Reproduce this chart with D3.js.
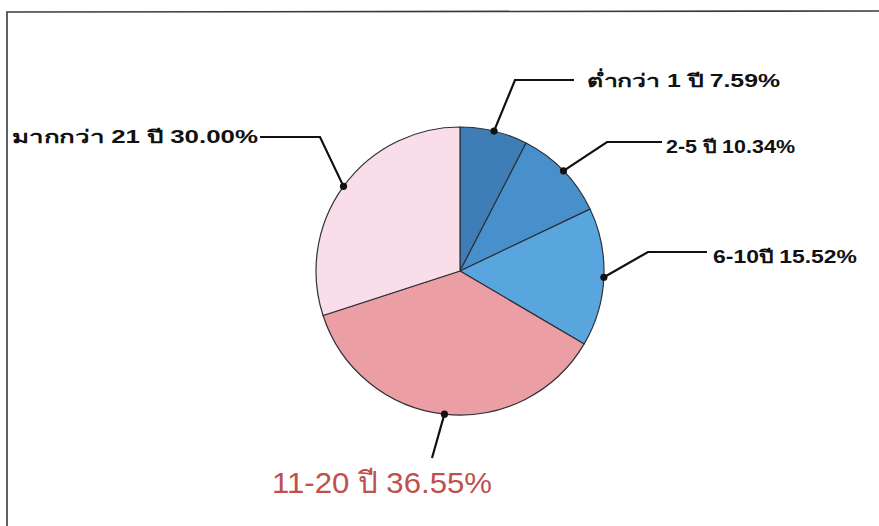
<!DOCTYPE html>
<html>
<head>
<meta charset="utf-8">
<script src="https://cdn.jsdelivr.net/npm/d3@7"></script>
<style>
  html, body { margin: 0; padding: 0; background: #fff; }
  svg { display: block; }
</style>
</head>
<body>
<svg id="chart" width="879" height="526"></svg>
<script>
// Share of respondents by length of service
const categories = ["ต่ำกว่า 1 ปี", "2-5 ปี", "6-10ปี", "11-20 ปี", "มากกว่า 21 ปี"];
const values = [7.59, 10.34, 15.52, 36.55, 30.00];
const colors = ["#3f7db6", "#4890cb", "#59a6df", "#eb9ea4", "#f9dde8"];

// Leader-line routing for each label: elbow point, line end, label anchor and width
const labelLayout = [
  { elbow: [515, 80],  end: [574, 80],  text: [587, 87],  anchor: "start",  width: 193 },
  { elbow: [607, 142], end: [662, 142], text: [666, 153], anchor: "start",  width: 129 },
  { elbow: [648, 252], end: [707, 252], text: [713, 263], anchor: "start",  width: 144 },
  { elbow: null,       end: [432, 458], text: [382, 493], anchor: "middle", width: 220 },
  { elbow: [320, 137], end: [260, 137], text: [258, 143], anchor: "end",    width: 246 }
];

const svg = d3.select("#chart");
const cx = 460, cy = 271, r = 144;

// frame
svg.append("path")
  .attr("d", "M7,526 L7,12 L879,11")
  .attr("fill", "none")
  .attr("stroke", "#3a3a3a")
  .attr("stroke-width", 1.6);

const data = categories.map((c, i) => ({ label: c, value: values[i], color: colors[i] }));

const pie = d3.pie().sort(null).value(d => d.value);
const arcs = pie(data);
const arc = d3.arc().innerRadius(0).outerRadius(r);

const g = svg.append("g").attr("transform", `translate(${cx},${cy})`);

g.selectAll("path.slice")
  .data(arcs)
  .join("path")
  .attr("class", "slice")
  .attr("d", arc)
  .attr("fill", d => d.data.color)
  .attr("stroke", "#2e3138")
  .attr("stroke-width", 1.2)
  .attr("stroke-linejoin", "round");

// leader lines from the mid-angle point on the rim
arcs.forEach((a, i) => {
  const mid = (a.startAngle + a.endAngle) / 2;
  const px = cx + r * Math.sin(mid);
  const py = cy - r * Math.cos(mid);
  const L = labelLayout[i];
  const pts = [[px, py]];
  if (L.elbow) pts.push(L.elbow);
  pts.push(L.end);
  svg.append("path")
    .attr("d", d3.line()(pts))
    .attr("fill", "none")
    .attr("stroke", "#111")
    .attr("stroke-width", 2.2);
  svg.append("circle")
    .attr("cx", px).attr("cy", py).attr("r", 3.6)
    .attr("fill", "#111");

  const big = i === 3;
  svg.append("text")
    .attr("x", L.text[0])
    .attr("y", L.text[1])
    .attr("text-anchor", L.anchor)
    .attr("font-family", "'Liberation Sans', Arial, 'Noto Sans', sans-serif")
    .attr("font-size", big ? 30 : 18)
    .attr("font-weight", big ? "normal" : "bold")
    .attr("fill", big ? "#c0504d" : "#111")
    .attr("textLength", L.width)
    .attr("lengthAdjust", "spacingAndGlyphs")
    .text(`${a.data.label} ${a.data.value.toFixed(2)}%`);
});
</script>
</body>
</html>
